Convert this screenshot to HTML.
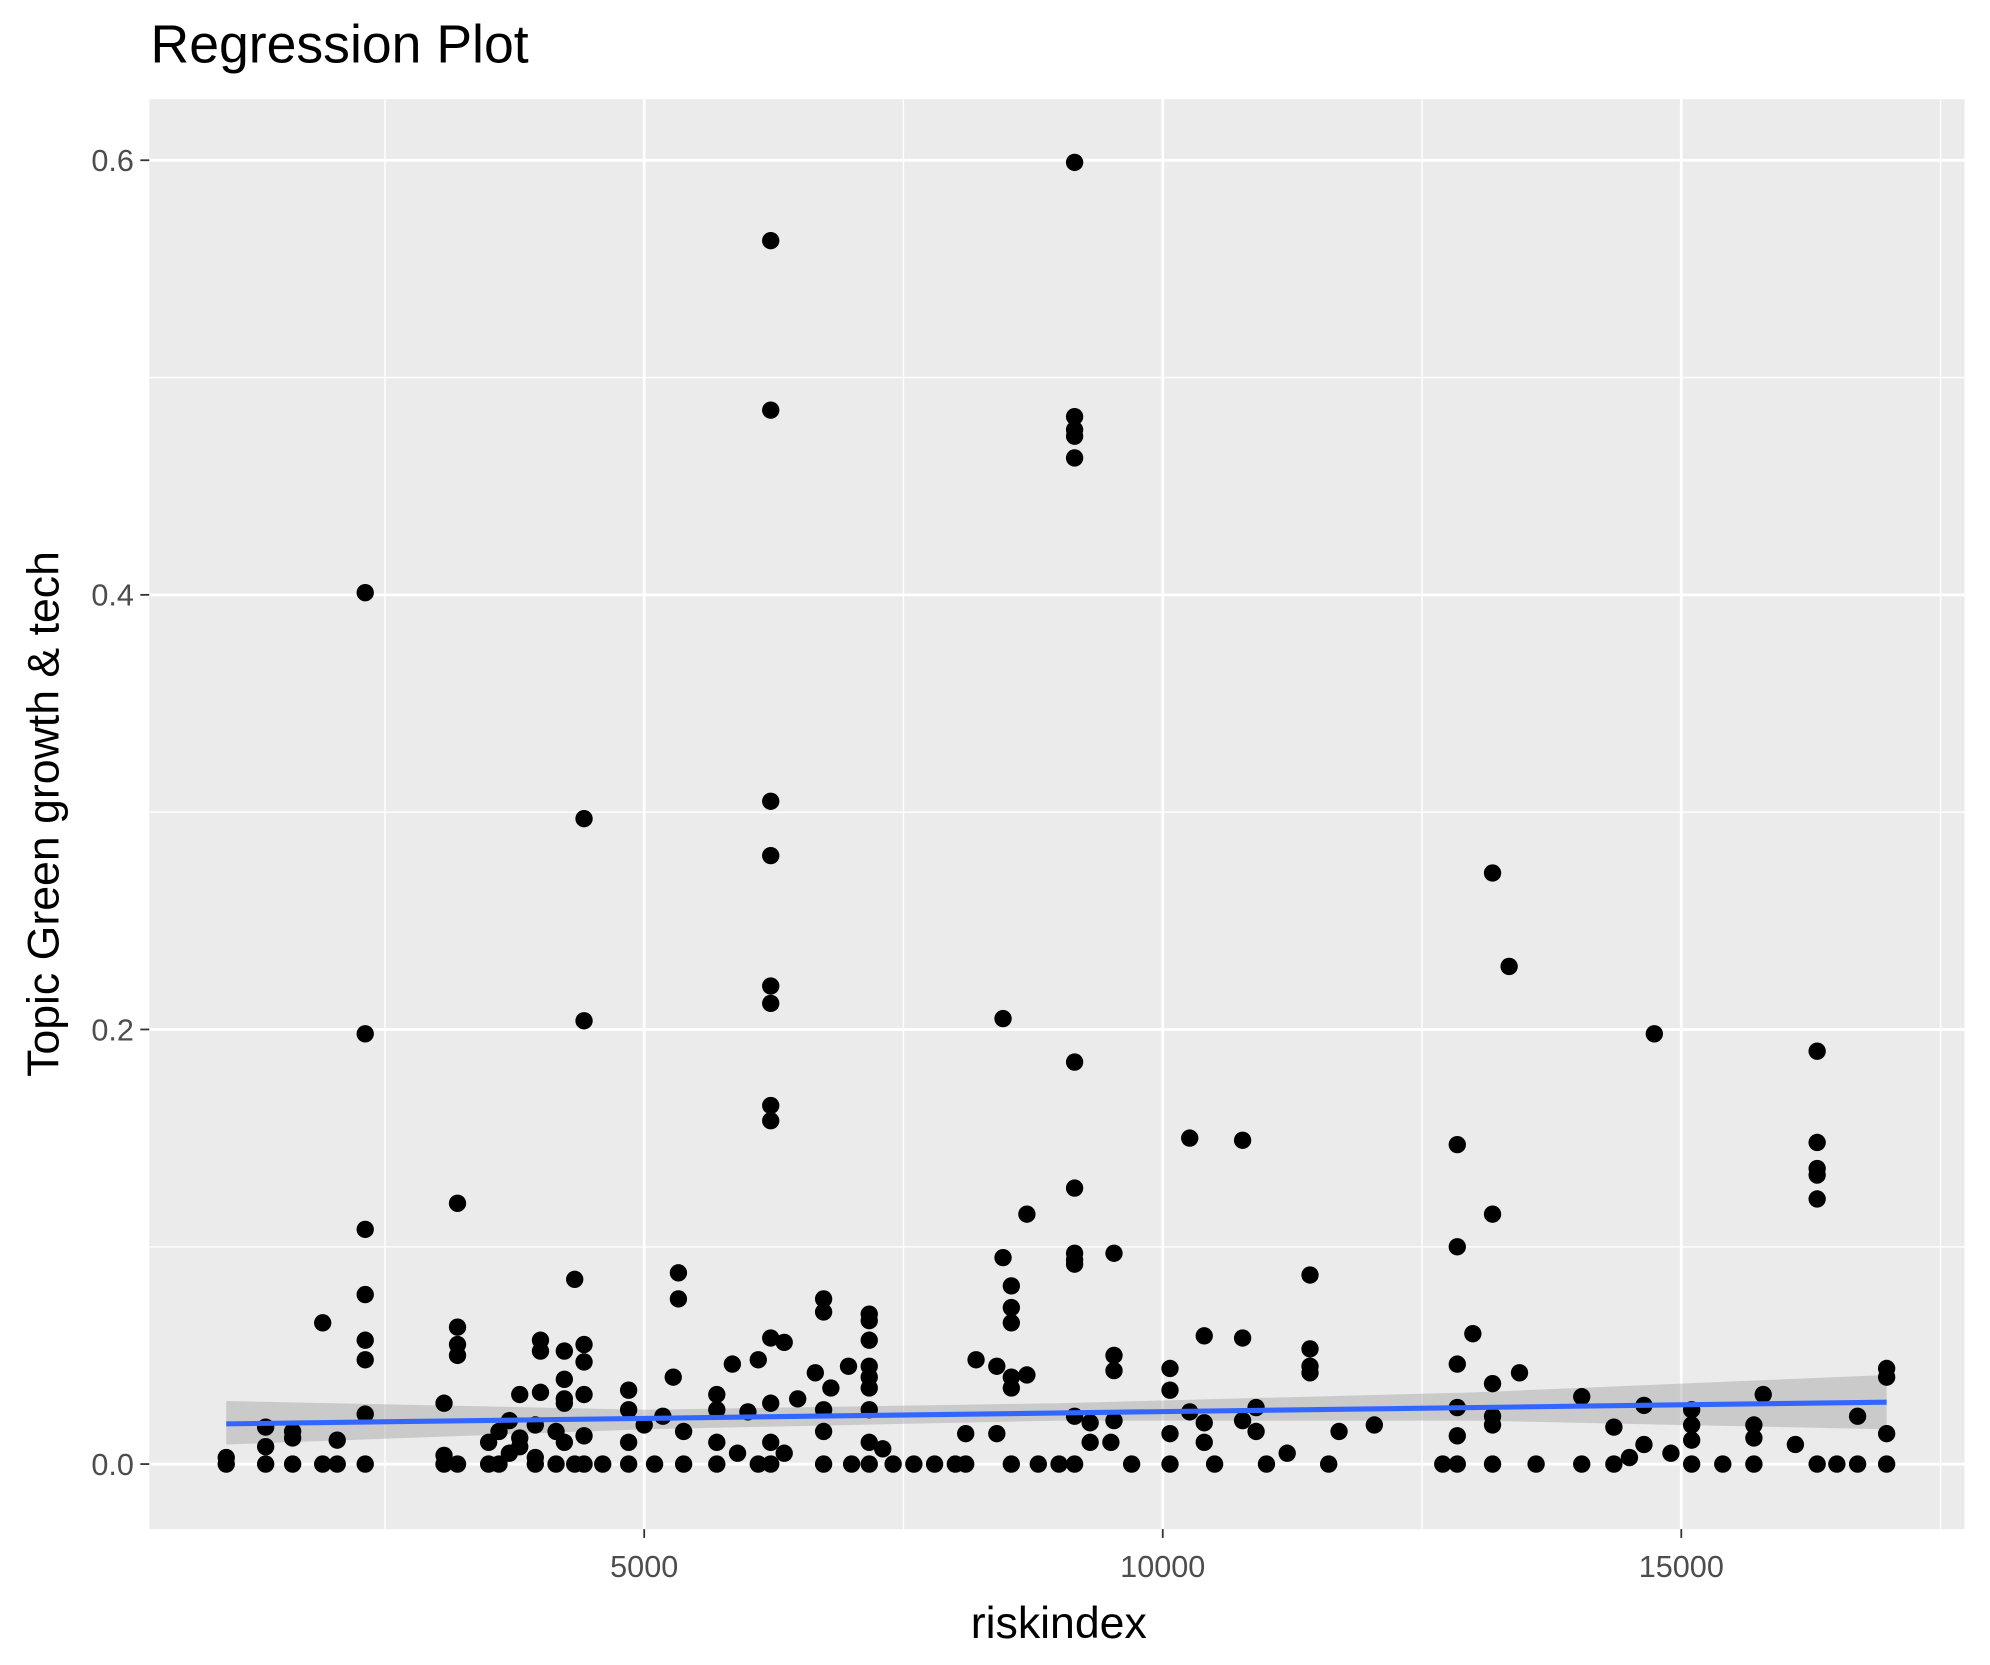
<!DOCTYPE html>
<html><head><meta charset="utf-8"><style>
html,body{margin:0;padding:0;background:#fff}
svg{display:block}
text{font-family:"Liberation Sans",Arial,sans-serif}
</style></head><body>
<svg id="chart" width="1990" height="1665" viewBox="0 0 1560 1305" xmlns="http://www.w3.org/2000/svg">
<text x="118" y="49" font-size="42" fill="#000">Regression Plot</text>
<rect x="117" y="77.6" width="1423" height="1121" fill="#ebebeb"/>
<g id="grid"></g>
<g id="band"></g>
<g id="points"></g>
<g id="fit"></g>
<g id="axes"></g>
<text x="830" y="1284" font-size="35" text-anchor="middle" fill="#000">riskindex</text>
<text transform="translate(46,638) rotate(-90)" font-size="35" text-anchor="middle" fill="#000">Topic Green growth &amp; tech</text>
</svg>
<script>
const xTicks=[5000,10000,15000];
const xMinor=[2500,7500,12500,17500];
const yTicks=[0,0.2,0.4,0.6];
const yMinor=[0.1,0.3,0.5];
const xLabels=["5000","10000","15000"];
const yLabels=["0.0","0.2","0.4","0.6"];
const groupX=[970,1350,1610,1900,2040,2310,3070,3200,3500,3600,3700,3800,3950,4000,4150,4230,4330,4420,4600,4850,5000,5100,5180,5280,5330,5380,5700,5850,5900,6000,6100,6220,6350,6480,6650,6730,6800,6970,7000,7170,7300,7400,7600,7800,8000,8100,8200,8400,8460,8540,8690,8800,9000,9150,9300,9500,9530,9700,10070,10260,10400,10500,10770,10900,11000,11200,11420,11600,11700,12040,12700,12840,12990,13180,13340,13440,13600,14040,14350,14500,14640,14740,14900,15100,15400,15700,15790,16100,16310,16500,16700,16980];
const groupY=[[0,0.003],[0,0.008,0.017],[0,0.012,0.015],[0,0.065],[0,0.011],[0,0.023,0.048,0.057,0.078,0.108,0.198,0.401],[0,0.004,0.028],[0,0.05,0.055,0.063,0.12],[0.01,0],[0,0.015],[0.005,0.02],[0.012,0.008,0.032],[0,0.003,0.018],[0.057,0.052,0.033],[0.015,0],[0.039,0.052,0.03,0.028,0.01],[0.085,0],[0.297,0.204,0.055,0.047,0.032,0.013,0],[0],[0.034,0.025,0.01,0],[0.018],[0],[0.022],[0.04],[0.088,0.076],[0.015,0],[0.032,0.025,0.01,0],[0.046],[0.005],[0.024],[0.048,0],[0.563,0.485,0.305,0.28,0.22,0.212,0.165,0.158,0.058,0.028,0.01,0],[0.056,0.005],[0.03],[0.042],[0.076,0.07,0.025,0.015,0],[0.035],[0.045],[0],[0.069,0.066,0.057,0.045,0.04,0.035,0.025,0.01,0],[0.007],[0],[0],[0],[0],[0.014,0],[0.048],[0.045,0.014],[0.205,0.095],[0.082,0.072,0.065,0.04,0.035,0],[0.115,0.041],[0],[0],[0.599,0.482,0.476,0.473,0.463,0.185,0.127,0.097,0.094,0.092,0.022,0],[0.019,0.01],[0.01],[0.097,0.05,0.043,0.02],[0],[0.044,0.034,0.014,0],[0.15,0.024],[0.059,0.019,0.01],[0],[0.149,0.058,0.02],[0.026,0.015],[0],[0.005],[0.087,0.053,0.045,0.042],[0],[0.015],[0.018],[0],[0.147,0.1,0.046,0.026,0.013,0],[0.06],[0.272,0.115,0.037,0.022,0.018,0],[0.229],[0.042],[0],[0.031,0],[0.017,0],[0.003],[0.027,0.009],[0.198],[0.005],[0.025,0.018,0.011,0],[0],[0.018,0.012,0],[0.032],[0.009],[0.19,0.148,0.136,0.133,0.122,0],[0],[0.022,0],[0.044,0.04,0.014,0]];
const bandX=[970,5000,9000,13000,16980];
const bandLo=[0.009,0.016,0.020,0.020,0.016];
const bandHi=[0.029,0.025,0.028,0.033,0.041];
const fitX=[970,16980];
const fitY=[0.0185,0.0285];
const NS="http://www.w3.org/2000/svg";
function xs(v){return 505+(v-5000)*0.0813;}
function ys(v){return 1147.6-v*1703.5;}
function mk(tag,attrs,parent){const e=document.createElementNS(NS,tag);for(const k in attrs)e.setAttribute(k,attrs[k]);parent.appendChild(e);return e;}
const grid=document.getElementById('grid');
xMinor.forEach(v=>{const l=mk('line',{x1:xs(v),x2:xs(v),y1:77.6,y2:1198.6,stroke:'#fff','stroke-width':1.1},grid);

});
yMinor.forEach(v=>{const l=mk('line',{x1:117,x2:1540,y1:ys(v),y2:ys(v),stroke:'#fff','stroke-width':1.1},grid);

});
xTicks.forEach(v=>{const l=mk('line',{x1:xs(v),x2:xs(v),y1:77.6,y2:1198.6,stroke:'#fff','stroke-width':2.2},grid);

});
yTicks.forEach(v=>{const l=mk('line',{x1:117,x2:1540,y1:ys(v),y2:ys(v),stroke:'#fff','stroke-width':2.2},grid);

});
const band=document.getElementById('band');
let d='M'+bandX.map((x,i)=>xs(x)+','+ys(bandHi[i])).join(' L')+' L'+bandX.slice().reverse().map((x,i)=>xs(x)+','+ys(bandLo[bandX.length-1-i])).join(' L')+'Z';
const bp=mk('path',{d:d,fill:'#999','fill-opacity':0.4},band);


const pts=document.getElementById('points');
groupX.forEach((x,i)=>{groupY[i].forEach(y=>{const c=mk('circle',{cx:xs(x),cy:ys(y),r:6.8,fill:'#000'},pts);

});});
const fit=document.getElementById('fit');
const fl=mk('line',{x1:xs(fitX[0]),y1:ys(fitY[0]),x2:xs(fitX[1]),y2:ys(fitY[1]),stroke:'#3366ff','stroke-width':4},fit);


const ax=document.getElementById('axes');
xTicks.forEach((v,i)=>{const t=mk('line',{x1:xs(v),x2:xs(v),y1:1198.6,y2:1205.5,stroke:'#333','stroke-width':1.4},ax);


const tx=mk('text',{x:xs(v),y:1236,'font-size':24,'text-anchor':'middle',fill:'#4d4d4d'},ax);tx.textContent=xLabels[i];

});
yTicks.forEach((v,i)=>{const t=mk('line',{x1:110,x2:117,y1:ys(v),y2:ys(v),stroke:'#333','stroke-width':1.4},ax);


const tx=mk('text',{x:105,y:ys(v)+8.5,'font-size':24,'text-anchor':'end',fill:'#4d4d4d'},ax);tx.textContent=yLabels[i];

});
</script>
</body></html>
